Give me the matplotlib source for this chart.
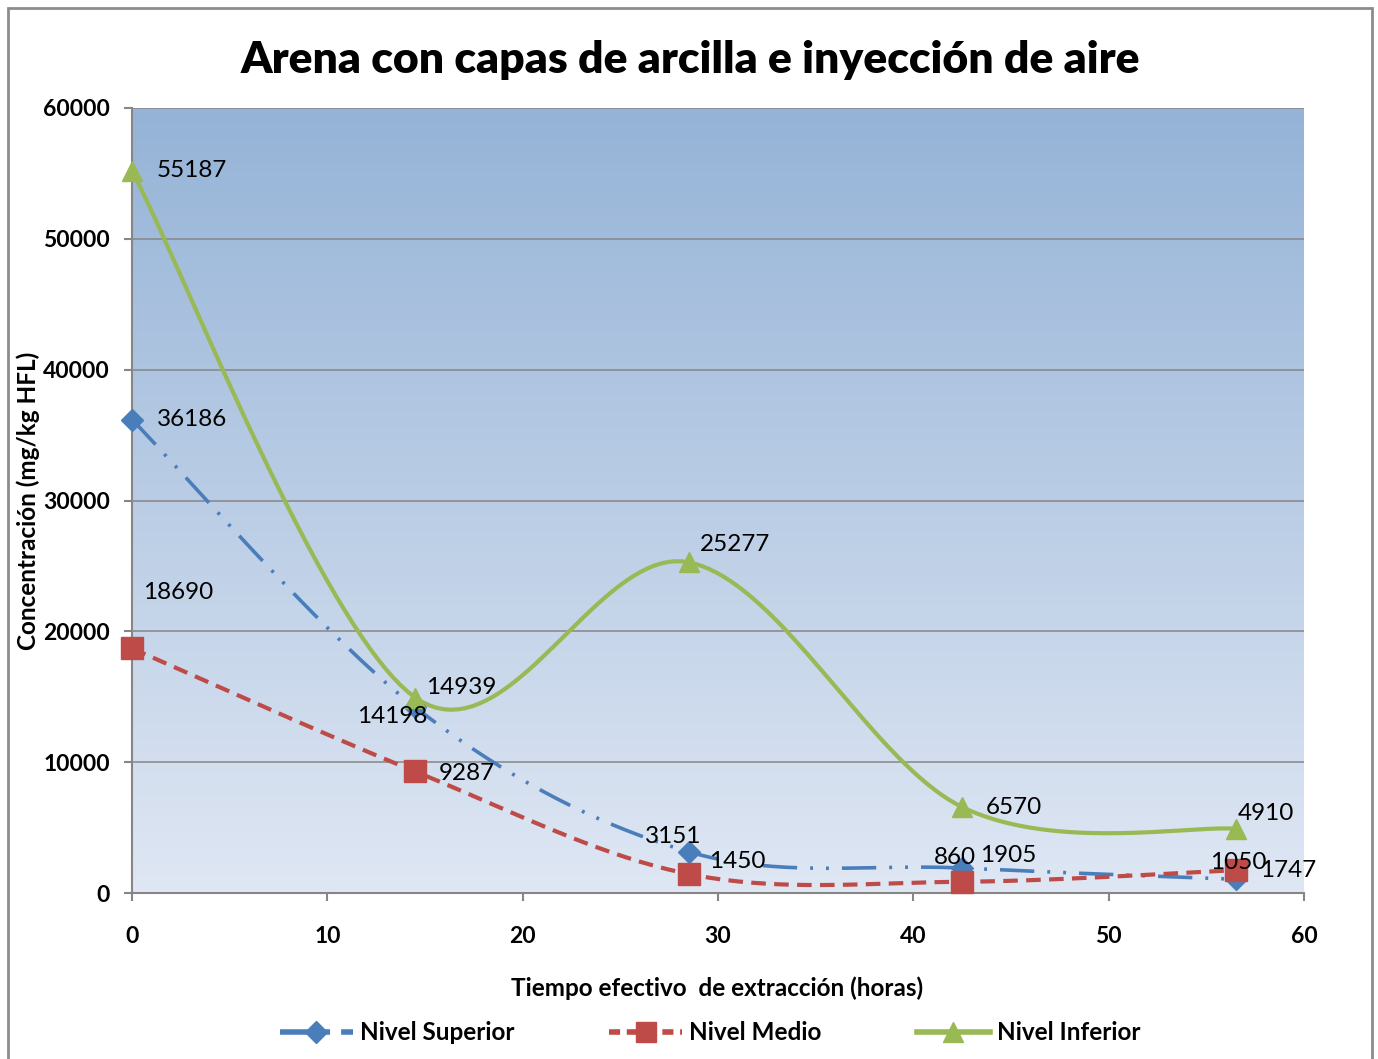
#!/usr/bin/env python3
import numpy as np
import matplotlib
matplotlib.use('Agg')
import matplotlib.pyplot as plt
from matplotlib.patches import Rectangle
from matplotlib.lines import Line2D

# data
horas = [0, 14.5, 28.5, 42.5, 56.5]
superior = [36186, 14198, 3151, 1905, 1050]
medio = [18690, 9287, 1450, 860, 1747]
inferior = [55187, 14939, 25277, 6570, 4910]
series_names = ['Nivel Superior', 'Nivel Medio', 'Nivel Inferior']

# label offsets in pixels (dx, dy)
off_sup = [(25, 0), (-58, -9), (-44, 15), (18, 13), (-26, 17)]
off_med = [(11, 56), (24, -2), (20, 13), (-28, 24), (24, 0)]
off_inf = [(25, 0), (11, 10), (11, 18), (24, 0), (2, 15)]

FONT = 'Lato'
XMAX, YMAX = 60, 60000


def smooth(xs, ys, W, H, n=40):
    # excel-like smoothed line: catmull-rom bezier in screen space
    p = np.column_stack([np.array(xs) / XMAX * W, np.array(ys) / YMAX * H])
    out = [p[0]]
    for i in range(len(p) - 1):
        p0 = p[i - 1] if i > 0 else p[i]
        p1, p2 = p[i], p[i + 1]
        p3 = p[i + 2] if i + 2 < len(p) else p[i + 1]
        c1 = p1 + (p2 - p0) / 6
        c2 = p2 - (p3 - p1) / 6
        t = np.linspace(0, 1, n)[1:, None]
        b = (1 - t)**3 * p1 + 3 * (1 - t)**2 * t * c1 + 3 * (1 - t) * t**2 * c2 + t**3 * p2
        out.extend(b)
    out = np.array(out)
    return out[:, 0] / W * XMAX, out[:, 1] / H * YMAX


plt.rcParams['font.family'] = FONT
plt.rcParams['font.weight'] = 'bold'

fig = plt.figure(figsize=(13.78, 10.59), dpi=100)
fig.patches.append(Rectangle((8 / 1378, -0.01), 1364 / 1378, 1 - 8 / 1059 + 0.01,
                             transform=fig.transFigure, fill=False,
                             edgecolor='#8c8c8c', lw=2))

ax = fig.add_axes([132 / 1378, 1 - 893 / 1059, 1172 / 1378, 785 / 1059])
W, H = 1172, 785

# gradient background
grad = np.linspace(0, 1, 256)[:, None]
top = np.array([0.584, 0.702, 0.843])
bot = np.array([0.875, 0.906, 0.955])
img = top[None, None, :] * (1 - grad[:, :, None]) + bot[None, None, :] * grad[:, :, None]
ax.imshow(img, extent=[0, XMAX, 0, YMAX], aspect='auto', zorder=0, origin='upper')

ax.set_xlim(0, XMAX)
ax.set_ylim(0, YMAX)
ax.set_xticks(range(0, 61, 10))
ax.set_yticks(range(0, 60001, 10000))
ax.yaxis.grid(True, color='#868686', lw=1.1, zorder=1)
for s in ['top', 'right']:
    ax.spines[s].set_visible(False)
for s in ['left', 'bottom']:
    ax.spines[s].set_color('#868686')
    ax.spines[s].set_linewidth(1.5)
ax.tick_params(direction='out', length=6, width=1.5, color='#868686', labelsize=16.5)
ax.tick_params(axis='x', pad=18)
ax.tick_params(axis='y', pad=10)

blue, red, green = '#4a7ebb', '#be4b48', '#98b954'

xs, ys = smooth(horas, superior, W, H)
ax.plot(xs, ys, color=blue, lw=2.6, dashes=(9.5, 3.6, 0.8, 3.6, 0.8, 3.6), zorder=3)
ax.plot(horas, superior, ls='none', marker='D', ms=11, color=blue, zorder=4, clip_on=False)

xs, ys = smooth(horas, medio, W, H)
ax.plot(xs, ys, color=red, lw=3, dashes=(3.5, 2), zorder=3)
ax.plot(horas, medio, ls='none', marker='s', ms=16, color=red, zorder=4, clip_on=False)

xs, ys = smooth(horas, inferior, W, H)
ax.plot(xs, ys, color=green, lw=3, zorder=3)
ax.plot(horas, inferior, ls='none', marker='^', ms=14, color=green, zorder=4, clip_on=False)

for vals, offs in [(superior, off_sup), (medio, off_med), (inferior, off_inf)]:
    for x, y, (dx, dy) in zip(horas, vals, offs):
        ax.annotate(str(y), (x, y), xytext=(dx, dy), textcoords='offset pixels',
                    ha='left', va='center', fontsize=17.5, fontweight='normal',
                    color='black', zorder=5, annotation_clip=False)

fig.text(690 / 1378, 1 - 60 / 1059, 'Arena con capas de arcilla e inyección de aire',
         ha='center', va='center', fontsize=32, fontweight='heavy')
fig.text(717 / 1378, 1 - 988 / 1059, 'Tiempo efectivo  de extracción (horas)',
         ha='center', va='center', fontsize=17.5, fontweight='bold')
fig.text(28 / 1378, 1 - 501 / 1059, 'Concentración (mg/kg HFL)', rotation=90,
         ha='center', va='center', fontsize=17.5, fontweight='bold')

handles = [
    Line2D([], [], color=blue, lw=4, dashes=(6, 2, 1, 2), marker='D', ms=11),
    Line2D([], [], color=red, lw=4, dashes=(2, 1.2), marker='s', ms=15),
    Line2D([], [], color=green, lw=4, marker='^', ms=14),
]
fig.legend(handles, series_names, loc='center', bbox_to_anchor=(710 / 1378, 1 - 1033 / 1059),
           ncol=3, frameon=False, handlelength=3.0, columnspacing=3.9, handletextpad=0.3,
           prop={'weight': 'bold', 'size': 17.5})

fig.savefig('out.png', dpi=100)
